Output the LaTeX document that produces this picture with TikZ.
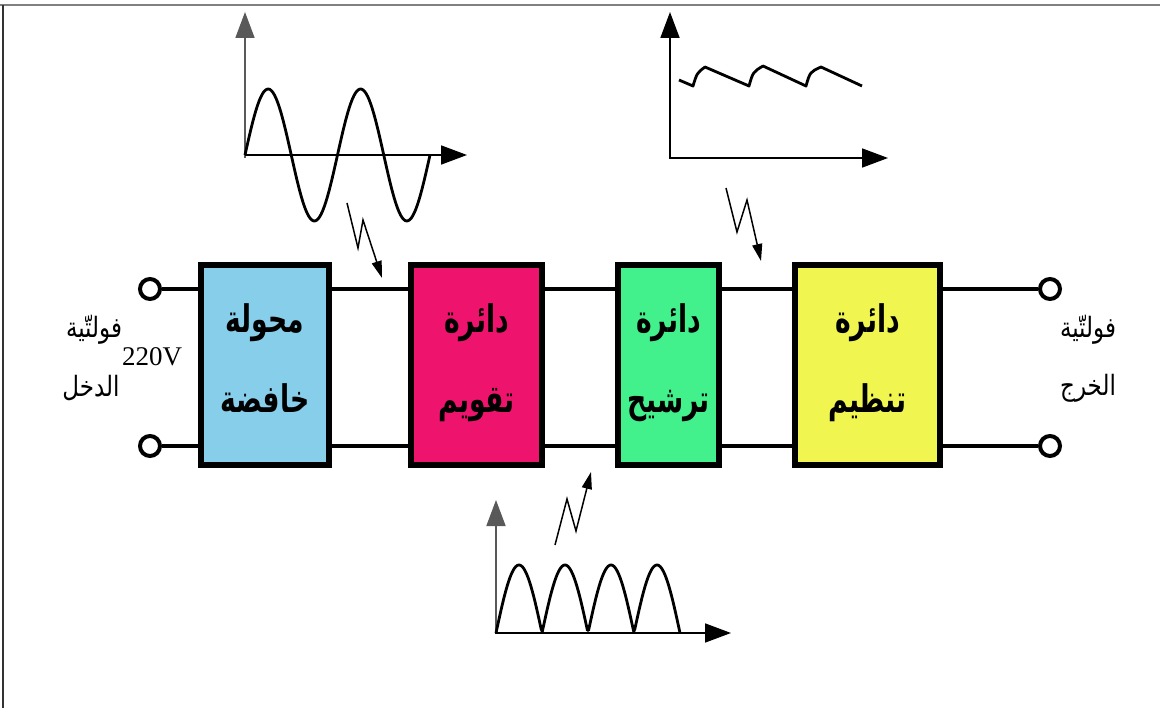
\documentclass[tikz,border=0pt]{standalone}
\usepackage{fontspec}
\usetikzlibrary{arrows.meta}
\TeXXeTstate=1
\newfontfamily\boxfont[Script=Arabic,FakeStretch=0.7]{DejaVu Sans Bold}
\newfontfamily\labfont[Script=Arabic,FakeStretch=0.82]{DejaVu Sans}
\newfontfamily\numfont{Liberation Serif}
\definecolor{cblue}{RGB}{135,206,235}
\definecolor{cpink}{RGB}{238,20,110}
\definecolor{cgreen}{RGB}{66,240,140}
\definecolor{cyellow}{RGB}{240,245,80}
\newcommand{\lowstrut}{\rule[-14pt]{0pt}{0pt}}
\begin{document}
\begin{tikzpicture}[x=1pt,y=-1pt,
  blockbox/.style={draw=black,line width=6pt,minimum height=200pt,inner sep=0pt,
    align=center,font=\boxfont\fontsize{38}{80}\selectfont},
  term/.style={circle,draw=black,line width=4pt,fill=white,minimum size=20pt,inner sep=0pt},
  wire/.style={line width=4.5pt},
  axis/.style={line width=1.8pt,-{Triangle[length=26pt,width=19pt]}},
  wave/.style={line width=2.8pt,line join=round},
  bolt/.style={line width=1.5pt,-{Triangle[length=17pt,width=10pt]}},
  lab/.style={font=\labfont\fontsize{28}{30}\selectfont,inner sep=0pt}]
\useasboundingbox (0,0) rectangle (1160,708);
\fill[white] (0,0) rectangle (1160,708);
% frame
\draw[gray,line width=2pt] (0,5) -- (1160,5);
\draw[black!80,line width=1.5pt] (3,5) -- (3,708);
% terminals
\node[term] (l1) at (150,289) {};
\node[term] (l2) at (150,446) {};
\node[term] (r1) at (1050,289) {};
\node[term] (r2) at (1050,446) {};
% boxes
\node[blockbox,fill=cblue,minimum width=128pt] (b1) at (265,365) {\beginR محولة\endR\\\beginR خافضة\endR\lowstrut};
\node[blockbox,fill=cpink,minimum width=131pt] (b2) at (476.5,365) {\beginR دائرة\endR\\\beginR تقويم\endR\lowstrut};
\node[blockbox,fill=cgreen,minimum width=101pt] (b3) at (668.5,365) {\beginR دائرة\endR\\\beginR ترشيح\endR\lowstrut};
\node[blockbox,fill=cyellow,minimum width=145pt] (b4) at (867.5,365) {\beginR دائرة\endR\\\beginR تنظيم\endR\lowstrut};
% wires
\foreach \t in {l1,l2}{\draw[wire] (\t.east) -- (\t -| b1.west);}
\foreach \t in {r1,r2}{\draw[wire] (\t -| b4.east) -- (\t.west);}
\draw[wire] (l1 -| b1.east) -- (l1 -| b2.west);
\draw[wire] (l2 -| b1.east) -- (l2 -| b2.west);
\draw[wire] (l1 -| b2.east) -- (l1 -| b3.west);
\draw[wire] (l2 -| b2.east) -- (l2 -| b3.west);
\draw[wire] (l1 -| b3.east) -- (l1 -| b4.west);
\draw[wire] (l2 -| b3.east) -- (l2 -| b4.west);
% side labels
\node[lab] (inA) at (94,330) {\beginR فولتّية\endR};
\node[lab] (inB) at (91,388) {\beginR الدخل\endR};
\node[font=\numfont\fontsize{27}{30}\selectfont,inner sep=0pt] (v) at (152,357) {220V};
\node[lab] (outA) at (1088,330) {\beginR فولتّية\endR};
\node[lab] (outB) at (1088,388) {\beginR الخرج\endR};
% sine graph
\coordinate (s0) at (245,155);
\draw[axis,gray!70!black] (245,158) -- (245,12);
\draw[axis] (s0) -- (467,155);
\draw[wave] plot[domain=0:185,samples=120] ({245+\x},{155-66*sin(\x*3.89189)});
% ripple graph
\draw[axis] (670,159) -- (670,12);
\draw[axis] (669,158) -- (888,158);
\draw[wave] (679,80) -- (693,86) .. controls (697,73) .. (705,67) -- (749,86)
  .. controls (753,72) .. (763,66) -- (806,86) .. controls (810,72) .. (821,67) -- (862,86);
% rectified graph
\draw[axis,gray!70!black] (496,634) -- (496,500);
\draw[axis] (495,633) -- (731,633);
\draw[wave] plot[domain=0:184,samples=160] ({496+\x},{633-68*abs(sin(\x*3.913043))});
% bolts
\coordinate (z1a) at (347,203); \coordinate (z1b) at (358,248); \coordinate (z1c) at (363,220); \coordinate (z1d) at (382,278);
\draw[bolt] (z1a) -- (z1b) -- (z1c) -- (z1d);
\coordinate (z2a) at (726,188); \coordinate (z2b) at (737,232); \coordinate (z2c) at (747,200); \coordinate (z2d) at (761,261);
\draw[bolt] (z2a) -- (z2b) -- (z2c) -- (z2d);
\coordinate (z3a) at (555,545); \coordinate (z3b) at (567,499); \coordinate (z3c) at (576,531); \coordinate (z3d) at (591,472);
\draw[bolt] (z3a) -- (z3b) -- (z3c) -- (z3d);
\end{tikzpicture}
\end{document}
